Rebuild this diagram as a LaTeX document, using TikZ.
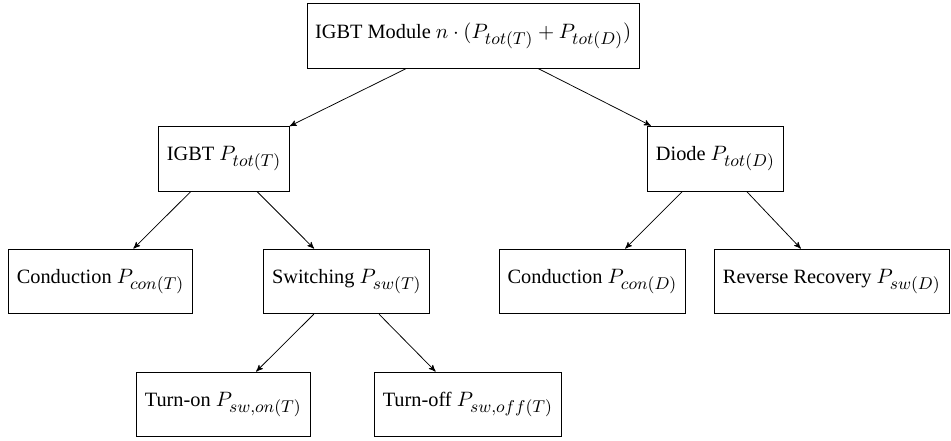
\documentclass[tikz,border=0pt]{standalone}
\usepackage[no-math]{fontspec}
\setmainfont{Liberation Serif}
\DeclareMathSizes{10.7}{11.2}{8.8}{6.3}
\usepackage{tikz}
\usetikzlibrary{arrows}

\begin{document}
\begin{tikzpicture}[>=stealth', auto, node distance=64.7pt,
	lossbox/.style={draw, rectangle, minimum height=1.2cm, inner xsep=4.3pt,
		font=\fontsize{10.7}{13}\selectfont}]
	\useasboundingbox (0,0) rectangle (500.5pt,-231.6pt);
	% Nodes {module, igbt, diode, etc}
	\node [lossbox]	(module)	at (249pt,-18.7pt)			{IGBT Module $n\cdot(P_{tot(T)}+P_{tot(D)})$};
	\node [lossbox]	(igbt)		[below of=module, xshift=-131.1pt]	{IGBT $P_{tot(T)}$};
	\node [lossbox]	(diode)		[below of=module, xshift=127.5pt]	{Diode $P_{tot(D)}$};
	\node [lossbox]	(condT)		[below of=igbt, xshift=-65pt]		{Conduction $P_{con(T)}$};
	\node [lossbox]	(swT)		[below of=igbt, xshift=64.6pt]		{Switching $P_{sw(T)}$};
	\node [lossbox]	(condD)		[below of=diode, xshift=-64.7pt]	{Conduction $P_{con(D)}$};
	\node [lossbox]	(recov)		[below of=diode, xshift=61.3pt]		{Reverse Recovery $P_{sw(D)}$};
	\node [lossbox]	(turnon)	[below of=swT, xshift=-65pt]		{Turn-on $P_{sw,on(T)}$};
	\node [lossbox]	(turnoff)	[below of=swT, xshift=63.7pt]		{Turn-off $P_{sw,off(T)}$};
	
	% Paths
	\path [->]	(module)	edge	(igbt);
	\path [->]	(module)	edge	(diode);
	\path [->]	(igbt)		edge	(condT);
	\path [->]	(igbt)		edge	(swT);
	\path [->]	(diode)		edge	(condD);
	\path [->]	(diode)		edge	(recov);
	\path [->]	(swT)		edge	(turnon);
	\path [->]	(swT)		edge	(turnoff);
	
\end{tikzpicture}
\end{document}
